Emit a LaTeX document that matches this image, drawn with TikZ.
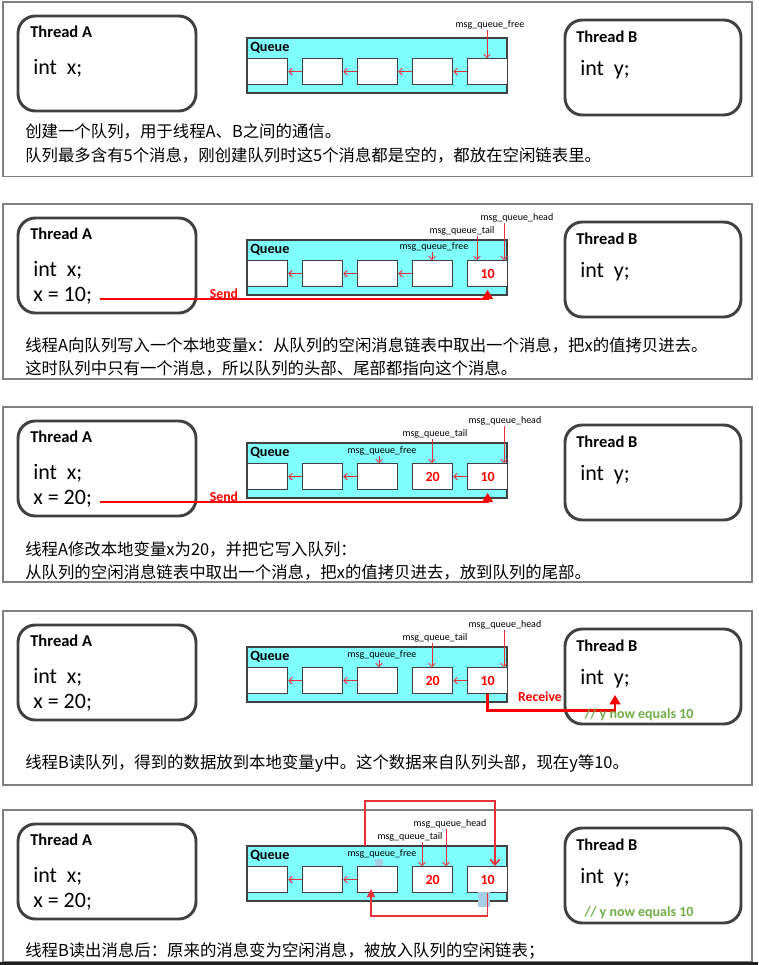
\documentclass[tikz,border=0pt]{standalone}
\usepackage{fontspec}
\setmainfont{Carlito}
\newfontfamily\cjk{Noto Sans CJK SC}
\usetikzlibrary{arrows.meta, positioning}

\definecolor{qcyan}{HTML}{80FFFF}
\definecolor{panelgray}{HTML}{808080}
\definecolor{boxgray}{HTML}{404040}
\definecolor{ptrred}{HTML}{E8303A}
\definecolor{sendred}{HTML}{FF0000}
\definecolor{nowgreen}{HTML}{70AD47}
\definecolor{patchblue}{HTML}{A6CDE4}

\tikzset{
  panel/.style={draw=panelgray, line width=1.1pt},
  thread/.style={draw=boxgray, line width=2.2pt, rounded corners=13pt},
  queue/.style={draw=boxgray, line width=0.9pt, fill=qcyan},
  cell/.style={draw=boxgray, line width=0.9pt, fill=white, minimum width=30pt,
    minimum height=19.5pt, inner sep=0pt, anchor=north west},
  link/.style={draw=ptrred, line width=0.75pt, -{Straight Barb[length=2.5pt,width=5pt]}},
  ptr/.style={draw=ptrred, line width=0.6pt, -{Straight Barb[length=2.5pt,width=5pt]}},
  send/.style={draw=sendred, line width=2.2pt, -{Triangle[length=7pt,width=8pt]}},
  backbarb/.style={draw=ptrred, line width=1.3pt, -{Straight Barb[length=4pt,width=7pt]}},
  back/.style={draw=ptrred, line width=1.3pt, -{Triangle[length=6pt,width=6pt]}},
  tname/.style={font=\bfseries\fontsize{12.4}{14}\selectfont, anchor=west, inner sep=0pt},
  code/.style={font=\fontsize{16.5}{19}\selectfont, anchor=west, inner sep=0pt},
  qname/.style={font=\bfseries\fontsize{10.6}{12}\selectfont, anchor=west, inner sep=0pt},
  lbl/.style={font=\fontsize{7.5}{9}\selectfont, inner sep=0.5pt},
  val/.style={font=\bfseries\fontsize{10.5}{12}\selectfont, text=sendred},
  act/.style={font=\bfseries\fontsize{10.3}{12}\selectfont, text=sendred},
  now/.style={font=\bfseries\fontsize{10.5}{12}\selectfont, text=nowgreen},
  note/.style={font=\cjk\fontsize{12.3}{14}\selectfont, anchor=west, inner sep=0pt}
}

% frame, both threads and the empty queue of one panel
\newcommand{\queuebase}[2]{
  \draw[panel] (3,-36) rectangle (752,#2);
  \draw[thread] (18,-22) rectangle (196,73);
  \draw[thread] (565,-18) rectangle (741,77);
  \node[tname] (#1a) at (30,-6) {Thread A};
  \node[tname] (#1b) at (576,-1) {Thread B};
  \node[code] (#1y) at (580,32) {int\ \ y;};
  \node[code] (#1x) at (33,30) {int\ \ x;};
  \draw[queue] (247,0) rectangle (507,55);
  \node[qname] (#1q) at (250,9.5) {Queue};
  \foreach \i in {1,...,5}
    \node[cell] (#1c\i) at ({247+55*(\i-1)},20) {};
}

\begin{document}
\begin{tikzpicture}[x=0.75pt,y=-0.75pt]
\useasboundingbox (0,0) rectangle (758,965);

% panel 1: empty queue
\begin{scope}[shift={(0,38)}]
  \queuebase{p1}{138.5}
  \foreach \i/\j in {2/1,3/2,4/3,5/4}
    \draw[link] (p1c\i.west) -- (p1c\j.east);
  \node[lbl] (p1free) at (490,-13) {msg\_queue\_free};
  \coordinate (p1f) at (487,20);
  \draw[ptr] (p1free.south -| p1f) -- (p1f);
  \node[note] (p1t1) at (25,93) {创建一个队列，用于线程A、B之间的通信。};
  \node[note] (p1t2) at (25,117) {队列最多含有5个消息，刚创建队列时这5个消息都是空的，都放在空闲链表里。};
\end{scope}

% panel 2: A sends 10
\begin{scope}[shift={(0,240)}]
  \queuebase{p2}{139}
  \node[code] (p2x2) at (33,56) {x = 10;};
  \foreach \i/\j in {2/1,3/2,4/3}
    \draw[link] (p2c\i.west) -- (p2c\j.east);
  \node[val] (p2v5) at (p2c5) {10};
  \node[lbl] (p2head) at (517,-22) {msg\_queue\_head};
  \node[lbl] (p2tail) at (462,-9) {msg\_queue\_tail};
  \node[lbl] (p2free) at (434,7) {msg\_queue\_free};
  \coordinate (p2h) at (504,20);
  \coordinate (p2t) at (477,20);
  \coordinate (p2f) at (432,20);
  \draw[ptr] (p2head.south -| p2h) -- (p2h);
  \draw[ptr] (p2tail.south -| p2t) -- (p2t);
  \draw[ptr] (p2free.south -| p2f) -- (p2f);
  \coordinate (p2s) at (100,59);
  \draw[send] (p2s) -| ([yshift=-2pt]p2c5.south);
  \node[act] (p2send) at (224,54) {Send};
  \node[note] (p2t1) at (25,105) {线程A向队列写入一个本地变量x：从队列的空闲消息链表中取出一个消息，把x的值拷贝进去。};
  \node[note] (p2t2) at (25,128) {这时队列中只有一个消息，所以队列的头部、尾部都指向这个消息。};
\end{scope}

% panel 3: A sends 20
\begin{scope}[shift={(0,443)}]
  \queuebase{p3}{139}
  \node[code] (p3x2) at (33,56) {x = 20;};
  \foreach \i/\j in {2/1,3/2,5/4}
    \draw[link] (p3c\i.west) -- (p3c\j.east);
  \node[val] (p3v4) at (p3c4) {20};
  \node[val] (p3v5) at (p3c5) {10};
  \node[lbl] (p3head) at (505,-22) {msg\_queue\_head};
  \node[lbl] (p3tail) at (435,-9) {msg\_queue\_tail};
  \node[lbl] (p3free) at (382,8) {msg\_queue\_free};
  \coordinate (p3h) at (504,20);
  \coordinate (p3t) at (432,20);
  \coordinate (p3f) at (379,20);
  \draw[ptr] (p3head.south -| p3h) -- (p3h);
  \draw[ptr] (p3tail.south -| p3t) -- (p3t);
  \draw[ptr] (p3free.south -| p3f) -- (p3f);
  \coordinate (p3s) at (100,59);
  \draw[send] (p3s) -| ([yshift=-2pt]p3c5.south);
  \node[act] (p3send) at (224,54) {Send};
  \node[note] (p3t1) at (25,106) {线程A修改本地变量x为20，并把它写入队列：};
  \node[note] (p3t2) at (25,129) {从队列的空闲消息链表中取出一个消息，把x的值拷贝进去，放到队列的尾部。};
\end{scope}

% panel 4: B receives
\begin{scope}[shift={(0,647)}]
  \queuebase{p4}{138}
  \node[code] (p4x2) at (33,56) {x = 20;};
  \foreach \i/\j in {2/1,3/2,5/4}
    \draw[link] (p4c\i.west) -- (p4c\j.east);
  \node[val] (p4v4) at (p4c4) {20};
  \node[val] (p4v5) at (p4c5) {10};
  \node[lbl] (p4head) at (505,-22) {msg\_queue\_head};
  \node[lbl] (p4tail) at (435,-9) {msg\_queue\_tail};
  \node[lbl] (p4free) at (382,8) {msg\_queue\_free};
  \coordinate (p4h) at (504,20);
  \coordinate (p4t) at (432,20);
  \coordinate (p4f) at (379,20);
  \draw[ptr] (p4head.south -| p4h) -- (p4h);
  \draw[ptr] (p4tail.south -| p4t) -- (p4t);
  \draw[ptr] (p4free.south -| p4f) -- (p4f);
  \coordinate (p4r) at (615,48);
  \draw[send] (p4c5.south) -- ++(0,16) -| (p4r);
  \node[act] (p4recv) at (540,50) {Receive};
  \node[now] (p4now) at (639,68) {// y now equals 10};
  \node[note] (p4t1) at (25,116) {线程B读队列，得到的数据放到本地变量y中。这个数据来自队列头部，现在y等10。};
\end{scope}

% panel 5: message goes back to the free list
\begin{scope}[shift={(0,846)}]
  \queuebase{p5}{116}
  \node[code] (p5x2) at (33,56) {x = 20;};
  \foreach \i/\j in {2/1,3/2}
    \draw[link] (p5c\i.west) -- (p5c\j.east);
  \node[val] (p5v4) at (p5c4) {20};
  \node[val] (p5v5) at (p5c5) {10};
  \node[lbl] (p5head) at (450,-22) {msg\_queue\_head};
  \node[lbl] (p5tail) at (410,-9) {msg\_queue\_tail};
  \node[lbl] (p5free) at (382,8) {msg\_queue\_free};
  \coordinate (p5h) at (446,20);
  \coordinate (p5t) at (422,20);
  \draw[ptr] (p5head.south -| p5h) -- (p5h);
  \draw[ptr] (p5tail.south -| p5t) -- (p5t);
  \fill[patchblue] (375,13) rectangle (383,20);
  \fill[patchblue] (478,46) rectangle (490,61);
  \coordinate (p5s) at (365,0);
  \coordinate (p5u) at (495,20);
  \coordinate (p5d) at (371,43);
  \draw[backbarb] (p5s) -- ++(0,-45) -| (p5u);
  \draw[back] (p5c5.south) -- ++(0,23) -| (p5d);
  \node[now] (p5now) at (639,67) {// y now equals 10};
  \node[note] (p5t1) at (25,105) {线程B读出消息后：原来的消息变为空闲消息，被放入队列的空闲链表；};
\end{scope}

\fill[black!88] (0,962) rectangle (758,965);
\end{tikzpicture}
\end{document}
